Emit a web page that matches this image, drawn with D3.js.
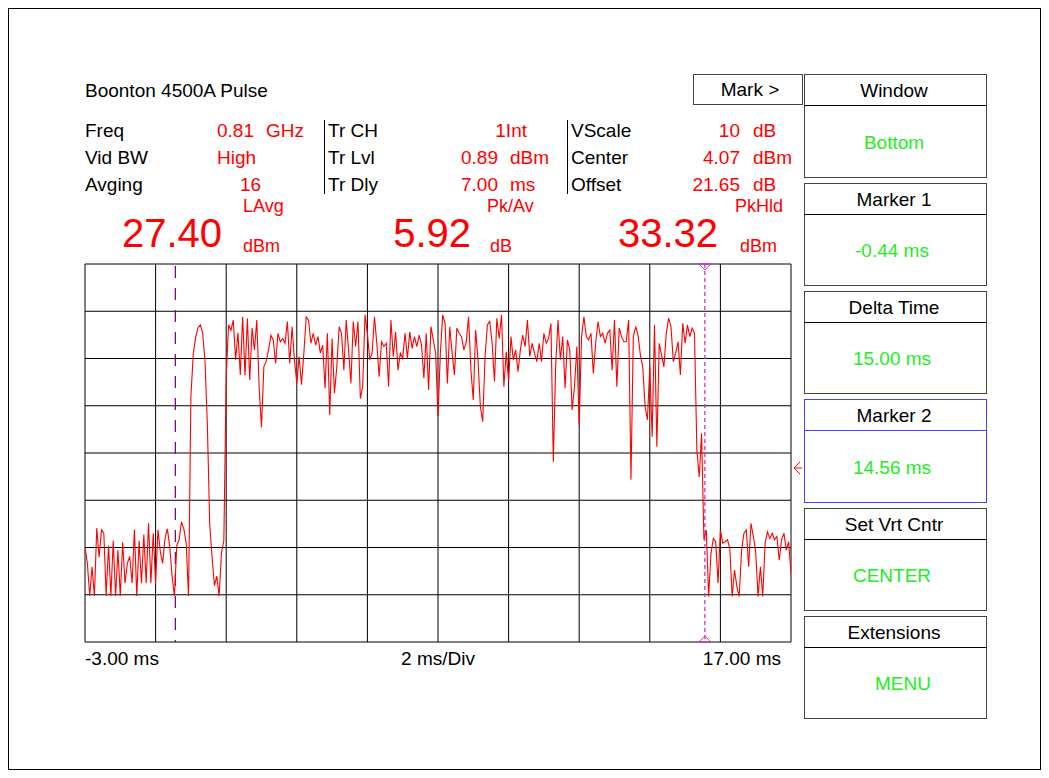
<!DOCTYPE html>
<html>
<head>
<meta charset="utf-8">
<script src="https://cdn.jsdelivr.net/npm/d3@7"></script>
<style>
  body { margin: 0; background: #fff; }
  text { font-family: "Liberation Sans", Arial, sans-serif; }
</style>
</head>
<body>
<div id="scope"></div>
<script>
// readings shown at the top of the screen
var col1Labels = ["Freq", "Vid BW", "Avging"],
    col1Values = ["0.81", "High", "16"],
    col1Units = ["GHz", "", ""];
var col2Labels = ["Tr CH", "Tr Lvl", "Tr Dly"],
    col2Values = ["1Int", "0.89", "7.00"],
    col2Units = ["", "dBm", "ms"];
var col3Labels = ["VScale", "Center", "Offset"],
    col3Values = ["10", "4.07", "21.65"],
    col3Units = ["dB", "dBm", "dB"];

var bigValues = ["27.40", "5.92", "33.32"],
    bigNames = ["LAvg", "Pk/Av", "PkHld"],
    bigUnits = ["dBm", "dB", "dBm"];

var panelTitles = ["Window", "Marker 1", "Delta Time", "Marker 2", "Set Vrt Cntr", "Extensions"],
    panelValues = ["Bottom", "-0.44 ms", "15.00 ms", "14.56 ms", "CENTER", "MENU"];

var timeTicks = [-3, -1, 1, 3, 5, 7, 9, 11, 13, 15, 17];
var axisLabels = ["-3.00 ms", "2 ms/Div", "17.00 ms"];

var vCenter = 4.07, vScale = 10, trigLevel = 0.89;
var marker1 = -0.44, marker2 = 14.56;

// trace samples (dBm), 301 points from -3 ms to 17 ms
var traceStart = -3, traceEnd = 17;
var trace = [
  -15.8, -19.3, -26.2, -20.0, -26.2, -11.8, -18.0, -12.2, -12.9, -26.2,
  -15.5, -26.2, -14.5, -26.2, -16.5, -26.2, -14.8, -23.5, -19.3, -17.8,
  -23.5, -12.2, -26.2, -14.5, -23.5, -13.2, -23.5, -10.8, -23.5, -12.9,
  -23.5, -12.2, -16.8, -19.3, -14.0, -12.0, -15.7, -22.0, -26.2, -15.5,
  -14.3, -10.5, -12.0, -15.0, -26.2,
  16.0, 25.0, 28.5, 30.6, 31.2, 29.5, 23.5, 10.0, -11.0, -18.0,
  -24.0, -22.0, -26.2, -17.0, -14.5, 20.0, 31.2,
  30.0, 32.2, 23.8, 29.5, 20.6, 32.9, 20.5, 32.6, 19.5, 30.5,
  25.9, 32.2, 18.0, 9.5, 22.3, 23.5,
  25.9, 29.0, 28.0, 23.0, 29.4, 27.6, 28.3, 27.3, 31.9, 23.0,
  30.8, 23.8, 18.8, 24.5, 18.5, 25.2, 32.9, 32.2, 27.3, 29.4,
  26.9, 28.7, 25.2, 26.9, 17.8, 29.4, 12.1, 28.3, 16.7, 22.3,
  30.8, 29.4, 21.6, 32.2, 25.9, 18.8, 31.9, 26.6, 31.9, 15.6,
  18.1, 33.3, 29.4, 23.8, 25.2, 32.9, 27.3, 20.2, 27.6, 26.6,
  27.3, 18.1, 32.2, 24.5, 29.7, 21.6, 25.2, 24.1, 29.4, 24.1,
  29.7, 26.2, 28.7, 26.6, 29.0, 26.9, 19.9, 29.4, 17.4, 30.8,
  28.0, 25.2, 11.8, 25.2, 33.3, 31.5,
  18.8, 30.8, 25.2, 20.6, 30.5, 29.4, 28.7, 25.9, 27.6, 32.9,
  21.5, 15.3, 30.1, 23.8, 13.9, 10.7, 24.5, 31.2, 31.9, 27.3,
  19.2, 32.6, 28.3, 33.3, 18.1, 25.5, 19.2, 28.7, 23.8, 25.9,
  21.3, 25.9, 29.0, 26.6, 32.2, 24.5, 27.3, 25.2, 23.4, 27.3,
  23.4, 29.4, 27.3, 28.3, 31.5, 2.2, 22.3, 32.2, 23.8, 28.7,
  17.8, 28.0, 25.9, 13.2, 18.1, 26.6, 10.0, 28.7, 32.9, 28.7,
  28.0, 29.4, 20.9, 27.3, 31.9, 28.7, 29.4, 27.3, 29.4, 30.1,
  21.6, 32.2, 18.1, 30.5, 28.7, 27.6,
  27.6, 32.2, -1.6, 28.7, 30.8, 29.0, 24.8, 22.3, 13.9, 11.1,
  22.3, 7.5, 31.2, 5.4, 27.3, 24.8, 22.3, 29.4, 32.6, 30.8,
  23.4, 25.2, 27.6, 20.6, 31.5, 27.3, 31.2, 28.7, 30.5, 29.4,
  4.7, -1.0, 8.2, -14.3, -12.2, -26.3, -17.2, -14.0, -14.7, -23.5,
  -12.2, -15.0, -14.7, -14.3, -16.1, -26.3, -20.7, -24.2, -26.3, -16.5,
  -12.9, -12.2, -20.0, -10.8, -13.6, -16.8, -26.3, -20.0, -26.3, -15.0,
  -12.6, -14.0, -12.9, -14.3, -13.6, -18.6, -14.3, -12.9, -16.5, -14.7,
  -21.4
];

var W = 1049, H = 778;
var plot = {left: 85, right: 791, top: 264, bottom: 642};
var red = "#ff0000", green = "#22ee22";
var fs = 19;

var svg = d3.select("#scope").append("svg")
    .attr("width", W)
    .attr("height", H);

svg.append("rect")
    .attr("x", 8.5).attr("y", 8.5)
    .attr("width", 1032).attr("height", 761)
    .attr("fill", "none").attr("stroke", "#000");

function addText(x, y, txt, color, anchor, size) {
  svg.append("text")
    .attr("x", x).attr("y", y)
    .attr("fill", color)
    .attr("text-anchor", anchor || "start")
    .style("font-size", (size || fs) + "px")
    .text(txt);
}

// ---- header text
addText(85, 97, "Boonton 4500A Pulse", "#000");

var rowY = [137, 164, 191];
var col1ValueX = [217, 217, 240];
col1Labels.forEach(function(d, i) {
  addText(85, rowY[i], d, "#000");
  addText(col1ValueX[i], rowY[i], col1Values[i], red);
  addText(266, rowY[i], col1Units[i], red);
});
col2Labels.forEach(function(d, i) {
  addText(328, rowY[i], d, "#000");
  if (col2Units[i] === "") addText(527, rowY[i], col2Values[i], red, "end");
  else addText(498, rowY[i], col2Values[i], red, "end");
  addText(510, rowY[i], col2Units[i], red);
});
col3Labels.forEach(function(d, i) {
  addText(571, rowY[i], d, "#000");
  addText(740, rowY[i], col3Values[i], red, "end");
  addText(753, rowY[i], col3Units[i], red);
});
[324.5, 567.5].forEach(function(x) {
  svg.append("line").attr("x1", x).attr("x2", x).attr("y1", 120).attr("y2", 194)
    .attr("stroke", "#000");
});

// big readouts
var bigEnd = [222, 471, 718], nameX = [243, 487, 735], unitX = [243, 490, 740];
bigValues.forEach(function(d, i) {
  addText(bigEnd[i], 247, d, red, "end", 40);
  addText(nameX[i], 212, bigNames[i], red, "start", 18);
  addText(unitX[i], 252, bigUnits[i], red, "start", 18);
});

// Mark > button
svg.append("rect").attr("x", 693.5).attr("y", 74.5).attr("width", 109).attr("height", 30)
  .attr("fill", "none").attr("stroke", "#444");
addText(750, 96, "Mark >", "#000", "middle");

// ---- right panels
var panelTop = [74, 183, 291, 399, 508, 616], panelH = [103, 102, 102, 103, 102, 102];
var valueX = [894, 892, 892, 892, 892, 903];
panelTitles.forEach(function(t, i) {
  var y0 = panelTop[i] + 0.5;
  var col = i === 3 ? "#4444ff" : "#444";
  svg.append("rect").attr("x", 804.5).attr("y", y0).attr("width", 182).attr("height", panelH[i])
    .attr("fill", "none").attr("stroke", col);
  svg.append("line").attr("x1", 804.5).attr("x2", 986.5).attr("y1", y0 + 31).attr("y2", y0 + 31)
    .attr("stroke", i === 3 ? "#4444ff" : "#000");
  addText(894, y0 + 22.5, t, "#000", "middle");
  addText(valueX[i], y0 + 31 + (panelH[i] - 31) / 2 + 7, panelValues[i], green, "middle");
});

// ---- scales
var x = d3.scaleLinear().domain([traceStart, traceEnd]).range([plot.left, plot.right]);
var y = d3.scaleLinear()
    .domain([vCenter - 4 * vScale, vCenter + 4 * vScale])
    .range([plot.bottom, plot.top]);
var levelTicks = d3.range(-4, 5).map(function(k) { return vCenter + k * vScale; });

var grid = svg.append("g");
grid.selectAll(".vl").data(timeTicks).enter().append("line")
    .attr("x1", function(d) { return x(d); }).attr("x2", function(d) { return x(d); })
    .attr("y1", plot.top).attr("y2", plot.bottom)
    .attr("stroke", "#000");
grid.selectAll(".hl").data(levelTicks).enter().append("line")
    .attr("x1", plot.left).attr("x2", plot.right)
    .attr("y1", function(d) { return y(d); }).attr("y2", function(d) { return y(d); })
    .attr("stroke", "#000");

svg.append("clipPath").attr("id", "clip").append("rect")
    .attr("x", plot.left).attr("y", plot.top)
    .attr("width", plot.right - plot.left).attr("height", plot.bottom - plot.top);

// marker 1
svg.append("line")
    .attr("x1", x(marker1)).attr("x2", x(marker1))
    .attr("y1", plot.top + 2).attr("y2", plot.bottom)
    .attr("stroke", "#7a0a7a").attr("stroke-width", 1.3)
    .attr("stroke-dasharray", "12,10");

// trace
var step = (traceEnd - traceStart) / (trace.length - 1);
var line = d3.line()
    .x(function(d, i) { return x(traceStart + i * step); })
    .y(function(d) { return y(d); });
svg.append("path")
    .datum(trace)
    .attr("clip-path", "url(#clip)")
    .attr("d", line)
    .attr("fill", "none")
    .attr("stroke", red)
    .attr("stroke-width", 1.1);

// marker 2
var m2 = x(marker2);
svg.append("line")
    .attr("x1", m2).attr("x2", m2)
    .attr("y1", plot.top).attr("y2", plot.bottom)
    .attr("stroke", "#cc33bb").attr("stroke-width", 1.3)
    .attr("stroke-dasharray", "4,3");
svg.append("path")
    .attr("d", "M" + (m2 - 6) + "," + plot.top + "L" + (m2 + 6) + "," + plot.top + "L" + m2 + "," + (plot.top + 6) + "Z")
    .attr("fill", "none").attr("stroke", "#cc33bb");
svg.append("path")
    .attr("d", "M" + (m2 - 6) + "," + plot.bottom + "L" + (m2 + 6) + "," + plot.bottom + "L" + m2 + "," + (plot.bottom - 6) + "Z")
    .attr("fill", "none").attr("stroke", "#cc33bb");

// trigger level arrow
var ty = y(trigLevel);
svg.append("path")
    .attr("d", "M" + (plot.right + 9) + "," + (ty - 6) + "L" + (plot.right + 3) + "," + ty +
          "L" + (plot.right + 9) + "," + (ty + 6) + "M" + (plot.right + 3) + "," + ty + "L" + (plot.right + 11) + "," + ty)
    .attr("fill", "none").attr("stroke", red);

// bottom labels
addText(plot.left, 665, axisLabels[0], "#000");
addText(x(7), 665, axisLabels[1], "#000", "middle");
addText(781, 665, axisLabels[2], "#000", "end");
</script>
</body>
</html>
